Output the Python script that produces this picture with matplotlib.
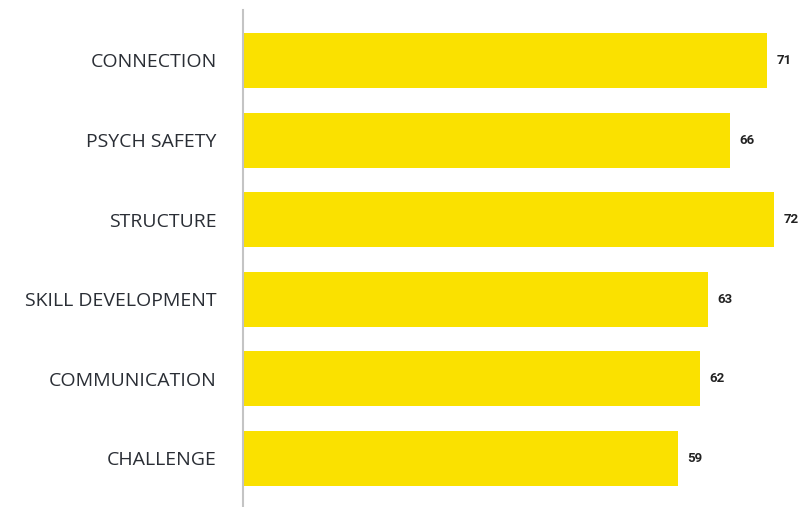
import matplotlib.pyplot as plt

categories = ['CONNECTION', 'PSYCH SAFETY', 'STRUCTURE', 'SKILL DEVELOPMENT', 'COMMUNICATION', 'CHALLENGE']
scores = [71, 66, 72, 63, 62, 59]

fig = plt.figure(figsize=(8.05, 5.07), dpi=100)
ax = fig.add_axes([243 / 805, 0, 1 - 243 / 805, 497 / 507])

pos = list(range(len(categories)))
ax.barh(pos, scores, height=0.69, color='#fae100')

for p, v in zip(pos, scores):
    ax.text(v + 1.3, p, str(v), va='center', ha='left', fontsize=9.5,
            fontweight='bold', color='#222222', family='Roboto')

ax.set_xlim(0, (805 - 243) / 7.375)
ax.set_ylim(5.61, -0.634)
ax.set_yticks(pos)
ax.set_yticklabels(categories, family='Open Sans', fontsize=14, color='#2a2e35')
ax.tick_params(axis='y', length=0, pad=19)
ax.set_xticks([])

for s in ['top', 'right', 'bottom']:
    ax.spines[s].set_visible(False)
ax.spines['left'].set_color('#c4c4c4')
ax.spines['left'].set_linewidth(1.5)

fig.savefig('out.png', dpi=100)
